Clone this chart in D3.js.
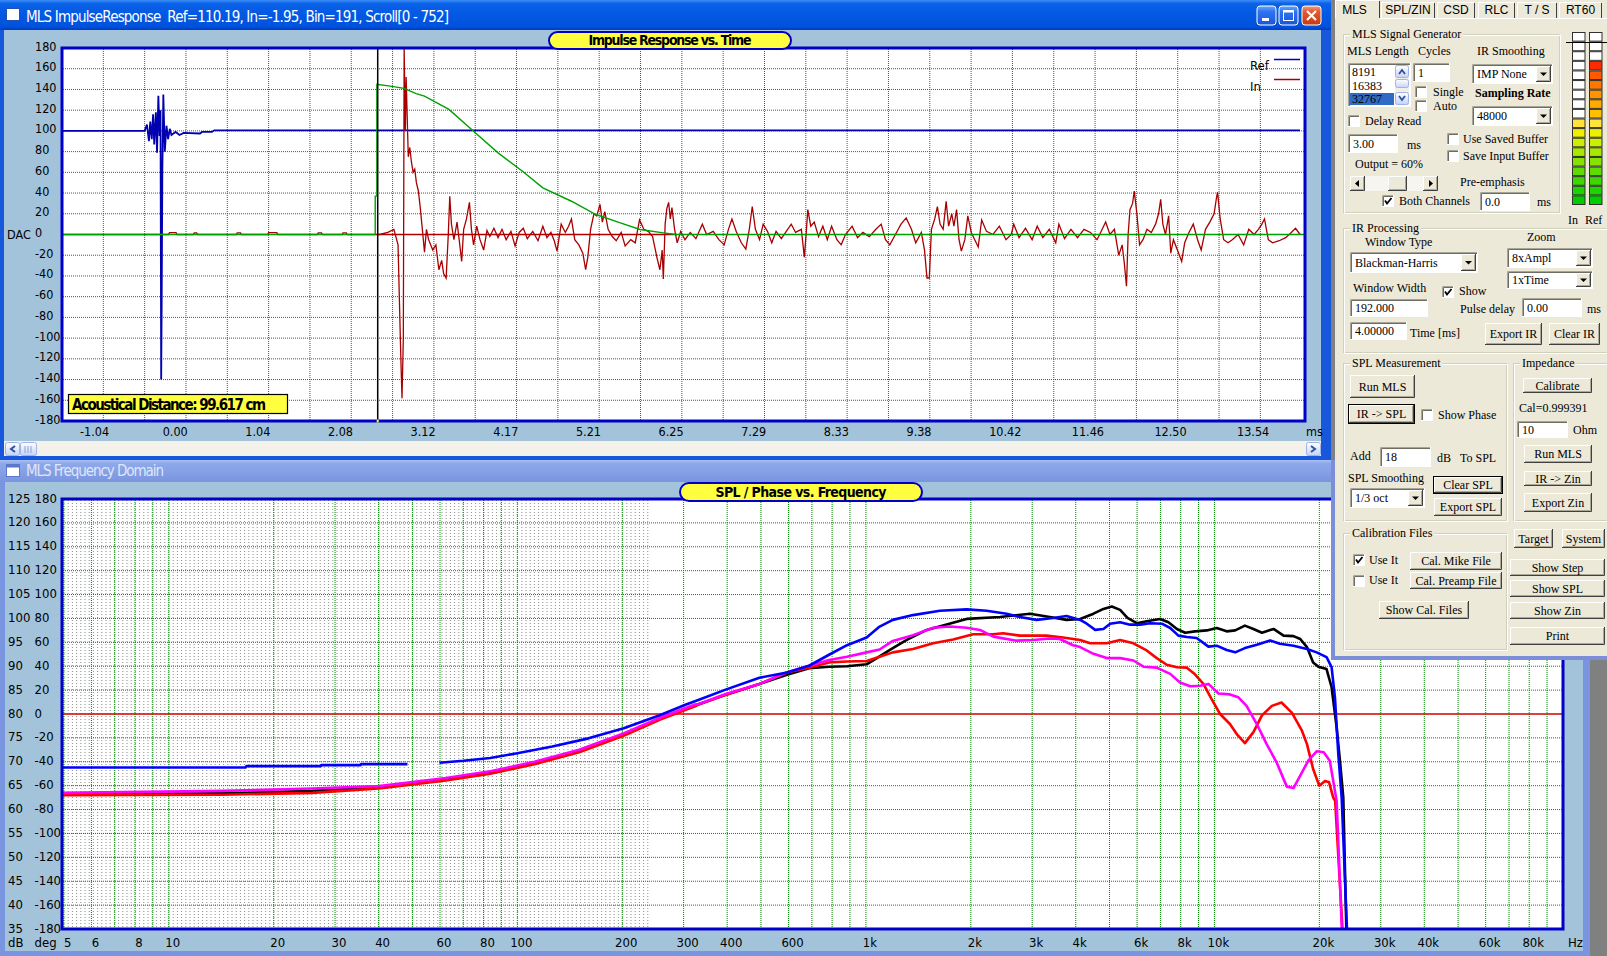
<!DOCTYPE html>
<html>
<head>
<meta charset="utf-8">
<title>MLS Impulse Response / Frequency Domain</title>
<script src="https://cdn.jsdelivr.net/npm/d3@7"></script>
<style>
  html, body { margin: 0; padding: 0; background: #808080; overflow: hidden; }
  svg { display: block; }
  .nar { font-family: 'Liberation Sans Narrow', 'Arial Narrow', 'DejaVu Sans Condensed', sans-serif; }
  .ser { font-family: 'Liberation Serif', 'Times New Roman', serif; font-size: 12px; fill: #000; }
  .tab { font-family: 'Liberation Sans', Arial, sans-serif; font-size: 12px; fill: #000; }
</style>
</head>
<body>
<svg id="screen" width="1607" height="956"></svg>
<script>
// ---------- impulse response window ----------
var irTitle = "MLS ImpulseResponse  Ref=110.19, In=-1.95, Bin=191, Scroll[0 - 752]";
var irTicksY = [180,160,140,120,100,80,60,40,20,0,-20,-40,-60,-80,-100,-120,-140,-160,-180];
var irTimeLabels = ["-1.04","0.00","1.04","2.08","3.12","4.17","5.21","6.25","7.29","8.33","9.38","10.42","11.46","12.50","13.54"];
var irScroll = [0, 752];
var windowStartBin = 191;
var inZeroSpan = [191, 372];

// Ref channel, [bin, DAC]
var refTrace = [[0,100],[50,100],[51.4,106],[52.6,90],[53.4,109],[54.3,92],[55.1,116],[55.8,87],[56.8,118],[57.5,79],
  [58.3,134],[59,95],[59.6,120],[60,-140],[60.3,-68],[60.7,60],[61.3,135],[62.2,80],[63.2,105],[64.2,92],[65.2,102],
  [66.2,96],[68.7,99],[71.1,96],[73.6,98],[83.5,97.5],[84.7,99],[90.7,99],[92.1,100.5],[749,100.5]];

// In channel, [bin, DAC]
var inTrace = [[0,0],[64.5,0],[65,1.8],[69,1.8],[69.5,0],[79.5,0],[80,1.5],[81.5,1.5],[82,0],[105.5,0],[106,1.5],[108,1.5],
  [108.5,0],[124.5,0],[125,1.8],[130,1.8],[130.5,0],[154.5,0],[155,1.5],[157,1.5],[157.5,0],[169.5,0],[170,1.5],[172,1.5],
  [172.5,0],[192.1,0],[197.1,2],[200.8,5],[203.3,-10],[205,-120],[205.7,-158],[206.5,-100],[207,180],[207.7,100],[208.2,152],
  [209.5,75],[210.4,84],[211.4,70],[212.4,60],[213.4,63],[214.4,50],[215.6,42],[216.8,25],[218.3,0],[219.3,-17],[220.5,5],
  [221.8,-5],[224.3,-15],[226.2,-10],[228,-34],[229.7,-25],[230.9,-38],[232.4,-42],[233.7,0],[234.6,37],[235.6,10],[237.1,-5],
  [239,12],[240.5,-8],[241.8,-26],[243,5],[244.7,15],[246.5,31],[247.7,5],[249,-10],[250.9,8],[252.9,-5],[255.1,-15],[257.1,4],
  [258.8,-2],[261.3,6],[263.8,-3],[266.2,5],[268.7,-5],[271.6,3],[274.1,-11],[276.6,2],[279.1,6],[281.5,-4],[284.8,3],[288,-6],
  [290.9,8],[293.4,-3],[295.8,2],[297.8,-6],[299.5,-16],[302,10],[304.5,2],[306.5,8],[308.2,15],[310.2,-5],[312.7,-10],
  [315.1,-18],[316.8,-34],[318.1,-22],[319.8,5],[321.8,20],[323.5,18],[325.5,29],[326.9,12],[328.4,22],[330.4,5],[332.9,-2],
  [335.3,-6],[338.3,2],[340.7,-11],[344.1,-5],[346.8,-8],[349.4,14],[352,5],[354.7,3],[357.3,-2],[359.9,-22],[361.7,-34],
  [363.1,-15],[363.8,-43],[364.9,10],[365.9,25],[367,31],[368,15],[369,26],[370.6,5],[372.2,-8],[374.3,3],[376.9,-5],[380.1,2],
  [383.5,-4],[387.4,10],[390,0],[394,3],[397.4,-5],[400.6,-10],[403.2,5],[405.3,15],[407.9,3],[411,-8],[413.7,-14],[415.8,5],
  [417.6,27],[419.5,5],[422,-5],[424.2,10],[426.8,3],[429.4,-8],[432,3],[435.2,-4],[438.6,4],[441.2,10],[443.8,2],[447.3,5],
  [449.1,-22],[450.4,5],[451.2,24],[453,8],[455.1,12],[457.7,-2],[460.3,8],[463,-5],[465.6,8],[468.8,-5],[471.4,-10],[474,0],
  [478,8],[481.3,-3],[484.5,2],[488.4,-2],[492.4,5],[495.6,10],[498.2,-5],[500.8,-10],[504.2,0],[507.6,10],[510.7,16],[513.9,5],
  [516.5,-8],[519.9,2],[521.8,-15],[523.3,-42],[524.7,-42],[526,5],[528,15],[529.6,27],[531.2,10],[533.1,5],[534.9,32],[536.4,8],
  [538.3,20],[539.6,8],[541.2,24],[542.7,-5],[544.1,-16],[546.2,-5],[548,18],[550.1,2],[552.2,-5],[554.3,-12],[556.4,14],
  [559.3,3],[563.2,0],[567.1,8],[571.1,-5],[574.3,0],[575.8,10],[579,-3],[582.9,6],[586.9,-5],[590,8],[593.4,-3],[597.3,5],
  [601.2,-8],[603.1,10],[606.5,-4],[610.4,5],[614.4,-3],[618.3,5],[622.2,2],[626.2,-5],[629.3,5],[631.4,12],[634,0],[636.7,5],
  [639.3,-20],[641.4,-10],[642.7,-28],[644,-50],[645,0],[646.1,24],[647.7,30],[648.7,42],[650.3,20],[651.9,-10],[654,-5],
  [656.4,5],[659,2],[661.6,10],[663.4,20],[664.7,34],[666,10],[667.6,0],[669.5,18],[670.8,-18],[672.4,-5],[674.8,-15],
  [677.4,-26],[679.2,-8],[681.8,2],[684.4,10],[687,-5],[689.2,-15],[691.8,5],[694.4,12],[697,20],[698.4,35],[699.1,41],
  [700.7,15],[702.8,-5],[705.4,-8],[708,-5],[711.5,0],[714.9,-10],[718,5],[721.2,0],[723.8,5],[725.9,10],[727.5,15],
  [729.8,-5],[732.4,-8],[736.4,-6],[740.3,-3],[743.7,2],[746.3,6],[749,0]];

// analysis window, [bin, DAC]
var winTrace = [[0,0],[189.5,0],[189.5,37],[190.5,37],[190.5,145],[199.7,143],[206.9,141],[214.2,136],[219.3,133.5],
  [234.1,120.7],[249,99.7],[263.8,78.8],[278.6,61.1],[290.9,45],[308.2,32.1],[323,19.3],[337.8,11.3],[349.7,4.8],
  [363.8,1.6],[371.7,0],[752,0]];

// ---------- frequency domain window ----------
var dbTicks = [125,120,115,110,105,100,95,90,85,80,75,70,65,60,55,50,45,40,35];
var degTicks = [180,160,140,120,100,80,60,40,20,0,-20,-40,-60,-80,-100,-120,-140,-160,-180];
var freqLabels = ["5","6","8","10","20","30","40","60","80","100","200","300","400","600","1k","2k","3k","4k","6k","8k","10k","20k","30k","40k","60k","80k"];
var freqLabelHz = [5,6,8,10,20,30,40,60,80,100,200,300,400,600,1000,2000,3000,4000,6000,8000,10000,20000,30000,40000,60000,80000];
var freqRange = [4.94, 100000];

// [Hz, dB]; null = gap in the trace
var splBlue = [[4.95,68.8],[16.6,68.8],[16.7,69.1],[27.3,69.1],[27.4,69.3],[35.5,69.3],[35.6,69.5],[48.4,69.5],null,
  [59.8,69.8],[70,70.2],[83.6,70.8],[100,71.8],[126,73.2],[160,74.9],[202,77],[255,79.7],[305,82],[332,83],[396,85.1],
  [495,87.6],[594,88.7],[687,90.1],[784,92.4],[883,94.4],[1005,96],[1095,98.3],[1195,99.7],[1365,100.7],[1630,101.6],
  [1945,101.9],[2220,101.6],[2535,101],[2765,100.3],[3090,99.7],[3445,100.1],[3765,100.5],[4118,99.7],[4303,98.9],
  [4548,97.6],[4804,97.8],[5021,98.9],[5363,99.2],[5727,98.7],[6121,98.7],[6538,99],[7066,98.9],[7467,98],[7881,96.4],
  [8334,96.1],[8890,95.9],[9612,94.1],[10151,94.3],[10841,93.4],[11470,92.9],[12229,93.8],[13231,94.5],[14447,95.4],
  [15405,94.7],[16858,94.3],[18427,93.6],[19643,92.9],[20971,91.9],[21683,89.8],[22165,83.5],[22665,71.6],[23177,62.5],[24000,35]];
var splBlack = [[4.95,63.2],[14.3,63.4],[25.8,63.9],[40.1,64.6],[62.4,66.3],[83.7,67.7],[112,69.7],[150.5,72.2],[202.5,75.7],
  [256,79],[323.5,81.7],[332,82.1],[396,84],[495,86.3],[594,88.2],[687,89.6],[784,89.9],[883,90],[1005,90.4],[1075,91.7],
  [1172,93.4],[1310,95.5],[1495,97.6],[1705,98.75],[1945,99.9],[2425,100.3],[2955,101],[3370,100.3],[3765,99.7],[4118,99.9],
  [4497,101],[4804,102],[5076,102.5],[5363,101.8],[5630,100.1],[5989,99],[6392,99.4],[6987,99.9],[7382,99.2],[7803,97.8],
  [8242,97],[8793,97.3],[9506,97.5],[10151,98],[10841,97.3],[11470,97.5],[12229,98.5],[12938,97.8],[13689,97],[14771,97.8],
  [15787,96.4],[16858,96.3],[17625,95.7],[18427,94],[19193,90.8],[19877,89.9],[20971,89.4],[21683,85.6],[22417,77.2],
  [22916,70.2],[23424,62.5],[23900,35]];
var splRed = [[4.95,63],[14.3,63.1],[25.8,63.5],[40.1,64.4],[62.4,66.1],[83.7,67.5],[112,69.5],[150.5,72],[202.5,75.5],
  [256,78.8],[323.5,81.6],[332,82],[396,84],[495,86.3],[594,88.7],[687,89.7],[784,90.8],[883,91],[1005,91.1],[1095,92],
  [1195,92.9],[1365,93.6],[1560,94.8],[1780,95.6],[2030,96.7],[2315,96.7],[2475,96.9],[2765,96.4],[3295,96.4],[3680,96],
  [4118,95.5],[4399,94.8],[4911,94.8],[5363,95.5],[5857,94.8],[6392,93.3],[6831,91.7],[7299,90.3],[7803,89.8],[8334,89.7],
  [8793,88.3],[9297,86.3],[9816,83.1],[10378,80],[11077,77.9],[11588,75.8],[12229,73.9],[12938,76.2],[13689,79.7],
  [14612,81.7],[15576,82.4],[16673,80.3],[17827,76.5],[18427,73.7],[19193,68.5],[19982,65],[20765,66],[21325,65.7],
  [21919,62.5],[22200,61.8],[23300,35]];
var splMagenta = [[4.95,63.5],[14.3,63.9],[25.8,64.4],[40.1,64.9],[62.4,66.6],[83.7,68],[112,70],[150.5,72.5],[202.5,76],
  [256,79.2],[323.5,82],[332,82.1],[396,84.2],[495,86.3],[594,88.75],[687,90.1],[784,91.3],[883,92],[1005,92.9],[1095,93.5],
  [1195,95.3],[1365,96.5],[1560,98.05],[1740,98.3],[1945,98.05],[2125,97.6],[2320,96.2],[2705,95.35],[3020,95.5],[3370,95.8],
  [3600,95.7],[3930,94.4],[4118,94],[4497,92.6],[4911,91.7],[5363,91.7],[5857,91.2],[6259,89.9],[6831,89.7],[7467,88.4],
  [7965,86.6],[8517,85.8],[9090,85.9],[9612,86.3],[10268,84.3],[11077,84.1],[11712,83.5],[12364,81.7],[13231,77.9],
  [14118,73.7],[15075,69.9],[16129,64.8],[16858,64.5],[17625,67.1],[18608,70.3],[19643,72.2],[20581,72],[21424,70.2],
  [21919,66],[22417,61.8],[23200,35]];

// level meters: lit cells out of 18
var meterColors = ["#00cc00","#1ed400","#3ed800","#5edc00","#86e200","#a8e800","#ccee00","#eef000","#ffe23a",
  "#ffc000","#ffaa00","#ff9400","#ff7800","#ff5a00","#ff2a00","#ffffff","#ffffff","#ffffff"];
var meterLevels = [["In", 9], ["Ref", 15]];

var CLIENT = "#a2c3da";
var PLOTBORDER = "#0000c8";
var GRID = "#008a00";
var DOTS = "1,1";

var svg = d3.select("#screen");
var defs = svg.append("defs");

function vgrad(id, stops) {
  var g = defs.append("linearGradient").attr("id", id).attr("x1", 0).attr("y1", 0).attr("x2", 0).attr("y2", 1);
  stops.forEach(function(s) { g.append("stop").attr("offset", s[0]).attr("stop-color", s[1]); });
}
vgrad("titleActive", [[0,"#3d8ff8"],[0.12,"#0a62e8"],[0.5,"#0358e3"],[0.88,"#0052dc"],[1,"#003dc0"]]);
vgrad("titleInactive", [[0,"#aac1f2"],[0.15,"#8ea9ea"],[1,"#7a95df"]]);
vgrad("xpBtn", [[0,"#ffffff"],[1,"#c4d3f6"]]);
vgrad("xpClose", [[0,"#f0a080"],[0.3,"#e2582e"],[1,"#c43c14"]]);
vgrad("xpCap", [[0,"#6aa6ff"],[0.3,"#2d74f2"],[1,"#1a55d8"]]);

function txt(g, x, y, s, size, cls, anchor, weight, fill) {
  return g.append("text").attr("class", cls).attr("x", x).attr("y", y)
    .attr("font-size", size).attr("text-anchor", anchor || "start")
    .attr("font-weight", weight || "normal").attr("fill", fill || "#000").text(s);
}

svg.append("rect").attr("width", 1607).attr("height", 956).attr("fill", "#808080");

// ================= bottom window: MLS Frequency Domain =================
var bw = svg.append("g");
bw.append("rect").attr("x", 0).attr("y", 458).attr("width", 1590).attr("height", 498).attr("fill", "#7a95df");
bw.append("rect").attr("x", 0).attr("y", 460).attr("width", 1590).attr("height", 22).attr("fill", "url(#titleInactive)");
bw.append("rect").attr("x", 6.5).attr("y", 464.5).attr("width", 13).attr("height", 12).attr("fill", "#fff").attr("stroke", "#5a78cc");
bw.append("rect").attr("x", 6.5).attr("y", 464.5).attr("width", 13).attr("height", 3).attr("fill", "#5a78cc");
txt(bw, 26, 476, "MLS Frequency Domain", 15, "nar", "start", "normal", "#dfe7fa").attr("textLength", 138);
bw.append("rect").attr("x", 5).attr("y", 482).attr("width", 1578).attr("height", 469).attr("fill", CLIENT);

var fx = d3.scaleLog().domain(freqRange).range([62, 1563]);
var dbY = d3.scaleLinear().domain([35, 125]).range([929, 499]);

bw.append("rect").attr("x", 62).attr("y", 499).attr("width", 1501).attr("height", 430).attr("fill", "#fff");
defs.append("clipPath").attr("id", "splClip").append("rect").attr("x", 62).attr("y", 499).attr("width", 1501).attr("height", 430);

// dense grey minor grid at the low end
var greyG = bw.append("g").attr("clip-path", "url(#splClip)");
greyG.selectAll("line").data(d3.range(64, 652, 4.2)).enter().append("line")
  .attr("x1", function(d) { return d; }).attr("x2", function(d) { return d; })
  .attr("y1", 500).attr("y2", 928).attr("stroke", "#8c8c8c").attr("stroke-dasharray", "1,2");

var majorF = [];
[1, 10, 100, 1000, 10000].forEach(function(dec) {
  for (var m = 1; m <= 9; m++) { var f = dec * m; if (f > freqRange[0] && f < freqRange[1]) majorF.push(f); }
});
bw.append("g").selectAll("line").data(majorF).enter().append("line")
  .attr("x1", function(d) { return fx(d); }).attr("x2", function(d) { return fx(d); })
  .attr("y1", 500).attr("y2", 928).attr("stroke", GRID).attr("stroke-dasharray", DOTS);
bw.append("g").selectAll("line").data(dbTicks.filter(function(d) { return d > 35 && d < 125 && d !== 80; })).enter().append("line")
  .attr("x1", 63).attr("x2", 1562).attr("y1", function(d) { return dbY(d); }).attr("y2", function(d) { return dbY(d); })
  .attr("stroke", GRID).attr("stroke-dasharray", DOTS);
bw.append("line").attr("x1", 63).attr("x2", 1562).attr("y1", dbY(80)).attr("y2", dbY(80)).attr("stroke", "#cc0000").attr("stroke-width", 1.3);

var splLine = d3.line().defined(function(d) { return d !== null; })
  .x(function(d) { return fx(d[0]); }).y(function(d) { return dbY(d[1]); });
var curves = bw.append("g").attr("clip-path", "url(#splClip)");
[[splBlack, "#000000"], [splRed, "#ff0000"], [splMagenta, "#ff00ff"], [splBlue, "#0000ff"]].forEach(function(c) {
  curves.append("path").datum(c[0]).attr("d", splLine).attr("fill", "none")
    .attr("stroke", c[1]).attr("stroke-width", 2.6).attr("stroke-linejoin", "round");
});
bw.append("rect").attr("x", 62).attr("y", 499).attr("width", 1501).attr("height", 430)
  .attr("fill", "none").attr("stroke", PLOTBORDER).attr("stroke-width", 3);

dbTicks.forEach(function(v, i) {
  txt(bw, 8, dbY(v) + 3.5, String(v), 13, "nar");
  txt(bw, 34.5, dbY(v) + 3.5, String(degTicks[i]), 13, "nar");
});
txt(bw, 8, 947, "dB", 13, "nar");
txt(bw, 34.5, 947, "deg", 13, "nar");
freqLabelHz.forEach(function(f, i) {
  txt(bw, fx(f) + 4, 947, freqLabels[i], 13, "nar", "middle");
});
txt(bw, 1568, 947, "Hz", 13, "nar");

function capsule(g, x0, x1, y0, y1, label, tlen) {
  var h = y1 - y0, r = h / 2;
  g.append("rect").attr("x", x0).attr("y", y0).attr("width", x1 - x0).attr("height", h).attr("rx", r).attr("ry", r)
    .attr("fill", "#ffff40").attr("stroke", PLOTBORDER).attr("stroke-width", 2);
  txt(g, (x0 + x1) / 2, y1 - 4, label, 14, "nar", "middle", "bold").attr("textLength", tlen);
}
capsule(bw, 680, 922, 483, 501, "SPL / Phase vs. Frequency", 171);

// ================= top window: MLS ImpulseResponse =================
var tw = svg.append("g");
tw.append("rect").attr("x", 0).attr("y", 0).attr("width", 1332).attr("height", 460).attr("fill", "#1757dc");
tw.append("rect").attr("x", 0).attr("y", 0).attr("width", 1332).attr("height", 30).attr("fill", "url(#titleActive)");
tw.append("rect").attr("x", 6.5).attr("y", 8.5).attr("width", 13).attr("height", 12).attr("fill", "#fff").attr("stroke", "#2050b8");
txt(tw, 26, 21.5, irTitle, 15, "nar", "start", "normal", "#fff").style("white-space", "pre").attr("textLength", 423);

function capButton(x, kind) {
  var g = tw.append("g");
  g.append("rect").attr("x", x).attr("y", 6).attr("width", 19).attr("height", 19).attr("rx", 3)
    .attr("fill", kind === "close" ? "url(#xpClose)" : "url(#xpCap)").attr("stroke", "#fff").attr("stroke-width", 1);
  if (kind === "min") g.append("rect").attr("x", x + 5).attr("y", 18).attr("width", 7).attr("height", 3).attr("fill", "#fff");
  if (kind === "max") {
    g.append("rect").attr("x", x + 4.5).attr("y", 10.5).attr("width", 10).attr("height", 10).attr("fill", "none").attr("stroke", "#fff");
    g.append("rect").attr("x", x + 4.5).attr("y", 10.5).attr("width", 10).attr("height", 2).attr("fill", "#fff");
  }
  if (kind === "close") g.append("path").attr("d", "M" + (x + 5) + ",11L" + (x + 14) + ",20M" + (x + 14) + ",11L" + (x + 5) + ",20")
    .attr("stroke", "#fff").attr("stroke-width", 2.2);
}
capButton(1257, "min");
capButton(1279, "max");
capButton(1302, "close");

tw.append("rect").attr("x", 4).attr("y", 30).attr("width", 1317).attr("height", 411).attr("fill", CLIENT);

var irX = d3.scaleLinear().domain(irScroll).range([62, 1305]);
var irY = d3.scaleLinear().domain([-180, 180]).range([421, 48]);

tw.append("rect").attr("x", 62).attr("y", 48).attr("width", 1243).attr("height", 373).attr("fill", "#fff");
defs.append("clipPath").attr("id", "irClip").append("rect").attr("x", 62).attr("y", 48).attr("width", 1243).attr("height", 373);

tw.append("g").selectAll("line").data(d3.range(25, 750, 25)).enter().append("line")
  .attr("x1", function(d) { return irX(d); }).attr("x2", function(d) { return irX(d); })
  .attr("y1", 49).attr("y2", 420).attr("stroke", GRID).attr("stroke-dasharray", DOTS);
tw.append("g").selectAll("line").data(irTicksY.filter(function(d) { return Math.abs(d) < 180 && d !== 0; })).enter().append("line")
  .attr("x1", 63).attr("x2", 1304).attr("y1", function(d) { return irY(d); }).attr("y2", function(d) { return irY(d); })
  .attr("stroke", GRID).attr("stroke-dasharray", DOTS);

var irLine = d3.line().x(function(d) { return irX(d[0]); }).y(function(d) { return irY(d[1]); });
var traces = tw.append("g").attr("clip-path", "url(#irClip)");
traces.append("path").datum(refTrace).attr("d", irLine).attr("fill", "none").attr("stroke", "#0000b0").attr("stroke-width", 1.8);
traces.append("path").datum(inTrace).attr("d", irLine).attr("fill", "none").attr("stroke", "#a80000").attr("stroke-width", 1.3);
traces.append("line").attr("x1", irX(inZeroSpan[0])).attr("x2", irX(inZeroSpan[1])).attr("y1", irY(0)).attr("y2", irY(0))
  .attr("stroke", "#b00000").attr("stroke-width", 1.5);
traces.append("path").datum(winTrace).attr("d", irLine).attr("fill", "none").attr("stroke", "#00a000").attr("stroke-width", 1.4);
traces.append("line").attr("x1", irX(windowStartBin)).attr("x2", irX(windowStartBin)).attr("y1", 48).attr("y2", 421)
  .attr("stroke", "#000").attr("stroke-width", 1.5);

tw.append("rect").attr("x", 62).attr("y", 48).attr("width", 1243).attr("height", 373)
  .attr("fill", "none").attr("stroke", PLOTBORDER).attr("stroke-width", 3);
tw.append("rect").attr("x", irX(windowStartBin) - 1).attr("y", 419.5).attr("width", 2).attr("height", 3).attr("fill", "#ffff00");

// legend
txt(tw, 1250, 70, "Ref", 13, "nar");
tw.append("line").attr("x1", 1274).attr("x2", 1300).attr("y1", 59.5).attr("y2", 59.5).attr("stroke", "#0000b0").attr("stroke-width", 1.5);
txt(tw, 1250, 91, "In", 13, "nar");
tw.append("line").attr("x1", 1274).attr("x2", 1300).attr("y1", 79.5).attr("y2", 79.5).attr("stroke", "#a80000").attr("stroke-width", 1.5);

irTicksY.forEach(function(v) {
  txt(tw, 35, irY(v) + 2.5, String(v), 12.5, "nar");
});
txt(tw, 7, irY(0) + 4, "DAC", 12.5, "nar");
irTimeLabels.forEach(function(s, i) {
  txt(tw, irX(10 + 50 * i) + 1.5, 436, s, 12.5, "nar");
});
txt(tw, 1306, 436, "ms", 12.5, "nar");

capsule(tw, 549, 791, 32, 49, "Impulse Response vs. Time", 163);

tw.append("rect").attr("x", 68.5).attr("y", 394.5).attr("width", 219).attr("height", 19)
  .attr("fill", "#ffff40").attr("stroke", "#000").attr("stroke-width", 1.2);
txt(tw, 72, 409.5, "Acoustical Distance: 99.617 cm", 15, "nar", "start", "bold").attr("textLength", 194);

// horizontal scrollbar
tw.append("rect").attr("x", 4).attr("y", 441).attr("width", 1317).attr("height", 15).attr("fill", "#f3f1ea");
function scrollBtn(x, w, glyph) {
  tw.append("rect").attr("x", x + 0.5).attr("y", 442.5).attr("width", w).attr("height", 13).attr("rx", 2)
    .attr("fill", "url(#xpBtn)").attr("stroke", "#9db3ea");
  if (glyph === "<") tw.append("path").attr("d", "M" + (x + 10) + ",446L" + (x + 6) + ",449L" + (x + 10) + ",452").attr("fill", "none").attr("stroke", "#3050a0").attr("stroke-width", 2);
  if (glyph === ">") tw.append("path").attr("d", "M" + (x + 5) + ",446L" + (x + 9) + ",449L" + (x + 5) + ",452").attr("fill", "none").attr("stroke", "#3050a0").attr("stroke-width", 2);
  if (glyph === "|") [5, 8, 11].forEach(function(dx) {
    tw.append("line").attr("x1", x + dx).attr("x2", x + dx).attr("y1", 446).attr("y2", 453).attr("stroke", "#8aa0d8");
  });
}
scrollBtn(5, 14, "<");
scrollBtn(20, 16, "|");
scrollBtn(1306, 14, ">");

// ================= control panel =================
var panel = svg.append("g");
panel.append("rect").attr("x", 1331).attr("y", 0).attr("width", 4).attr("height", 460).attr("fill", "#808080");
panel.append("rect").attr("x", 1331).attr("y", 460).attr("width", 4).attr("height", 200).attr("fill", "#7d8ed8");
panel.append("rect").attr("x", 1331).attr("y", 656).attr("width", 276).attr("height", 4).attr("fill", "#7d8ed8");
panel.append("rect").attr("x", 1335).attr("y", 0).attr("width", 272).attr("height", 656).attr("fill", "#ece9d8");

function lbl(x, cy, s, size) {
  return txt(panel, x, cy + 4, s, size || 12, "ser");
}
function sunken(x0, y0, x1, y1, fill) {
  panel.append("rect").attr("x", x0).attr("y", y0).attr("width", x1 - x0).attr("height", y1 - y0).attr("fill", fill || "#fff");
  panel.append("path").attr("d", "M" + (x0 + 0.5) + "," + y1 + "V" + (y0 + 0.5) + "H" + x1).attr("fill", "none").attr("stroke", "#a7a595");
  panel.append("path").attr("d", "M" + (x0 + 1.5) + "," + (y1 - 1) + "V" + (y0 + 1.5) + "H" + (x1 - 1)).attr("fill", "none").attr("stroke", "#6f6d62");
  panel.append("path").attr("d", "M" + x0 + "," + (y1 - 0.5) + "H" + (x1 - 0.5) + "V" + y0).attr("fill", "none").attr("stroke", "#fff");
}
function raised(x0, y0, x1, y1) {
  panel.append("rect").attr("x", x0).attr("y", y0).attr("width", x1 - x0).attr("height", y1 - y0).attr("fill", "#ece9d8");
  panel.append("path").attr("d", "M" + (x0 + 0.5) + "," + (y1 - 1) + "V" + (y0 + 0.5) + "H" + (x1 - 1)).attr("fill", "none").attr("stroke", "#fff");
  panel.append("path").attr("d", "M" + (x0 + 1) + "," + (y1 - 1.5) + "H" + (x1 - 1.5) + "V" + (y0 + 1)).attr("fill", "none").attr("stroke", "#aca899");
  panel.append("path").attr("d", "M" + x0 + "," + (y1 - 0.5) + "H" + (x1 - 0.5) + "V" + y0).attr("fill", "none").attr("stroke", "#404040");
}
function button(x0, y0, x1, y1, s, focus) {
  raised(x0, y0, x1, y1);
  if (focus) panel.append("rect").attr("x", x0 - 0.5).attr("y", y0 - 0.5).attr("width", x1 - x0 + 1).attr("height", y1 - y0 + 1)
    .attr("fill", "none").attr("stroke", "#000");
  txt(panel, (x0 + x1) / 2, (y0 + y1) / 2 + 4, s, 12, "ser", "middle");
}
function tbox(x0, y0, x1, y1, s) {
  sunken(x0, y0, x1, y1);
  lbl(x0 + 5, (y0 + y1) / 2, s);
}
function check(x0, y0, on) {
  sunken(x0, y0, x0 + 12, y0 + 12);
  if (on) panel.append("path").attr("d", "M" + (x0 + 3) + "," + (y0 + 5.5) + "L" + (x0 + 5) + "," + (y0 + 8.5) + "L" + (x0 + 9.5) + "," + (y0 + 3))
    .attr("fill", "none").attr("stroke", "#000").attr("stroke-width", 1.8);
}
function downArrow(x0, y0, x1, y1) {
  var cx = (x0 + x1) / 2, cy = (y0 + y1) / 2;
  panel.append("path").attr("d", "M" + (cx - 3.5) + "," + (cy - 1.5) + "H" + (cx + 3.5) + "L" + cx + "," + (cy + 2) + "Z").attr("fill", "#000");
}
function combo(x0, y0, x1, y1, s) {
  sunken(x0, y0, x1, y1);
  lbl(x0 + 5, (y0 + y1) / 2, s);
  raised(x1 - 17, y0 + 2, x1 - 2, y1 - 2);
  downArrow(x1 - 17, y0 + 2, x1 - 2, y1 - 2);
}
function group(x0, y0, x1, y1, title) {
  panel.append("rect").attr("x", x0 + 0.5).attr("y", y0 + 0.5).attr("width", x1 - x0 - 1).attr("height", y1 - y0 - 1)
    .attr("fill", "none").attr("stroke", "#d0d0bf");
  panel.append("rect").attr("x", x0 + 1.5).attr("y", y0 + 1.5).attr("width", x1 - x0 - 1).attr("height", y1 - y0 - 1)
    .attr("fill", "none").attr("stroke", "#fff");
  var t = lbl(x0 + 9, y0, title, 12.5);
  var w = t.node().getComputedTextLength();
  panel.insert("rect", function() { return t.node(); }).attr("x", x0 + 7).attr("y", y0 - 7).attr("width", w + 4).attr("height", 14).attr("fill", "#ece9d8");
}

// tabs
var tabs = [["MLS", 1335, 1380], ["SPL/ZIN", 1381, 1435], ["CSD", 1437, 1475], ["RLC", 1478, 1515], ["T / S", 1517, 1557], ["RT60", 1559, 1602]];
panel.append("line").attr("x1", 1335).attr("x2", 1607).attr("y1", 18.5).attr("y2", 18.5).attr("stroke", "#fff");
tabs.forEach(function(t, i) {
  var top = i === 0 ? 0 : 2;
  panel.append("rect").attr("x", t[1]).attr("y", top).attr("width", t[2] - t[1]).attr("height", 18 - top + (i === 0 ? 1 : 0)).attr("fill", "#ece9d8");
  panel.append("path").attr("d", "M" + (t[1] + 0.5) + ",18V" + (top + 0.5) + "H" + (t[2] - 1)).attr("fill", "none").attr("stroke", "#fff");
  panel.append("path").attr("d", "M" + (t[2] - 0.5) + "," + (top + 1) + "V18").attr("fill", "none").attr("stroke", "#404040");
  txt(panel, (t[1] + t[2]) / 2 + (i === 0 ? -3 : 0), 14, t[0], 12, "tab", "middle");
});

// MLS Signal Generator
group(1343, 34, 1560, 213, "MLS Signal Generator");
lbl(1347, 51, "MLS Length");
lbl(1418, 51, "Cycles");
lbl(1477, 51, "IR Smoothing");
sunken(1348, 63, 1411, 107);
lbl(1352, 72, "8191");
lbl(1352, 86, "16383");
panel.append("rect").attr("x", 1350).attr("y", 93).attr("width", 44).attr("height", 12).attr("fill", "#316ac5");
txt(panel, 1352, 103, "32767", 12, "ser", "start", "normal", "#fff");
panel.append("rect").attr("x", 1395).attr("y", 65).attr("width", 14).attr("height", 40).attr("fill", "#f1efe6");
panel.append("rect").attr("x", 1395.5).attr("y", 65.5).attr("width", 13).attr("height", 12).attr("rx", 2).attr("fill", "url(#xpBtn)").attr("stroke", "#9db3ea");
panel.append("rect").attr("x", 1395.5).attr("y", 79.5).attr("width", 13).attr("height", 8).attr("rx", 2).attr("fill", "url(#xpBtn)").attr("stroke", "#9db3ea");
panel.append("rect").attr("x", 1395.5).attr("y", 92.5).attr("width", 13).attr("height", 12).attr("rx", 2).attr("fill", "url(#xpBtn)").attr("stroke", "#9db3ea");
panel.append("path").attr("d", "M1399,74L1402,70L1405,74").attr("fill", "none").attr("stroke", "#3050a0").attr("stroke-width", 1.8);
panel.append("path").attr("d", "M1399,96L1402,100L1405,96").attr("fill", "none").attr("stroke", "#3050a0").attr("stroke-width", 1.8);
tbox(1413, 63, 1450, 82, "1");
check(1415, 86, false); lbl(1433, 92, "Single");
check(1415, 100, false); lbl(1433, 106, "Auto");
combo(1472, 64, 1553, 84, "IMP None");
txt(panel, 1475, 97, "Sampling Rate", 11, "ser", "start", "bold");
combo(1472, 106, 1553, 126, "48000");
check(1348, 115, false); lbl(1365, 121, "Delay Read");
tbox(1348, 134, 1398, 153, "3.00"); lbl(1407, 145, "ms", 11);
check(1447, 133, false); lbl(1463, 139, "Use Saved Buffer");
check(1447, 150, false); lbl(1463, 156, "Save Input Buffer");
lbl(1355, 164, "Output = 60%");
panel.append("rect").attr("x", 1350).attr("y", 176).attr("width", 88).attr("height", 15).attr("fill", "#f6f5f0");
raised(1350, 176, 1365, 191);
panel.append("path").attr("d", "M1359,180L1355,183.5L1359,187Z").attr("fill", "#000");
raised(1388, 176, 1407, 191);
raised(1423, 176, 1438, 191);
panel.append("path").attr("d", "M1429,180L1433,183.5L1429,187Z").attr("fill", "#000");
lbl(1460, 182, "Pre-emphasis");
check(1382, 195, true); lbl(1399, 201, "Both Channels");
tbox(1480, 192, 1530, 211, "0.0"); lbl(1537, 202, "ms");

// level meters
var cellH = 173 / 18;
meterLevels.forEach(function(m, k) {
  var x0 = k === 0 ? 1572 : 1589;
  meterColors.forEach(function(c, i) {
    panel.append("rect").attr("x", x0 + 0.5).attr("y", 205 - (i + 1) * cellH + 0.5).attr("width", 12.5).attr("height", cellH - 1)
      .attr("fill", i < m[1] ? c : "#ffffff").attr("stroke", "#303030").attr("stroke-width", 1);
  });
  txt(panel, x0 - 4, 224, m[0], 12, "ser");
});
panel.append("line").attr("x1", 1566).attr("x2", 1607).attr("y1", 42.5).attr("y2", 42.5).attr("stroke", "#000");

// IR Processing
group(1343, 228, 1612, 353, "IR Processing");
lbl(1365, 242, "Window Type");
combo(1350, 252, 1478, 273, "Blackman-Harris");
lbl(1527, 237, "Zoom");
combo(1507, 248, 1593, 268, "8xAmpl");
combo(1507, 271, 1593, 289, "1xTime");
lbl(1353, 288, "Window Width", 11.5);
check(1442, 286, true); lbl(1459, 291, "Show");
tbox(1350, 299, 1428, 317, "192.000");
lbl(1460, 309, "Pulse delay");
tbox(1522, 298, 1582, 317, "0.00"); lbl(1587, 309, "ms");
tbox(1350, 322, 1407, 340, "4.00000"); lbl(1410, 333, "Time [ms]", 11);
button(1485, 323, 1542, 345, "Export IR");
button(1549, 323, 1600, 345, "Clear IR");

// SPL Measurement
group(1343, 363, 1507, 521, "SPL Measurement");
button(1350, 375, 1415, 398, "Run MLS");
button(1349, 405, 1414, 423, "IR -> SPL", true);
check(1421, 409, false); lbl(1438, 415, "Show Phase");
lbl(1350, 456, "Add");
tbox(1380, 447, 1431, 467, "18");
lbl(1437, 458, "dB");
lbl(1460, 458, "To SPL");
lbl(1348, 478, "SPL Smoothing", 11);
combo(1350, 488, 1425, 508, "1/3 oct");
button(1434, 477, 1502, 493, "Clear SPL", true);
button(1434, 498, 1502, 516, "Export SPL");

// Impedance
group(1513, 363, 1612, 521, "Impedance");
button(1523, 378, 1592, 393, "Calibrate");
lbl(1519, 408, "Cal=0.999391");
tbox(1517, 421, 1568, 438, "10");
lbl(1573, 430, "Ohm");
button(1524, 445, 1592, 463, "Run MLS");
button(1524, 471, 1592, 486, "IR -> Zin");
button(1524, 493, 1592, 512, "Export Zin");

// Calibration Files
group(1343, 533, 1507, 650, "Calibration Files");
check(1353, 554, true); lbl(1369, 560, "Use It");
button(1410, 552, 1502, 570, "Cal. Mike File");
check(1353, 575, false); lbl(1369, 580, "Use It");
button(1410, 572, 1502, 589, "Cal. Preamp File");
button(1379, 601, 1469, 619, "Show Cal. Files");
button(1514, 529, 1553, 548, "Target");
button(1562, 529, 1605, 548, "System");
button(1510, 559, 1605, 576, "Show Step");
button(1510, 580, 1605, 597, "Show SPL");
button(1510, 602, 1605, 619, "Show Zin");
button(1510, 627, 1605, 645, "Print");
</script>
</body>
</html>
